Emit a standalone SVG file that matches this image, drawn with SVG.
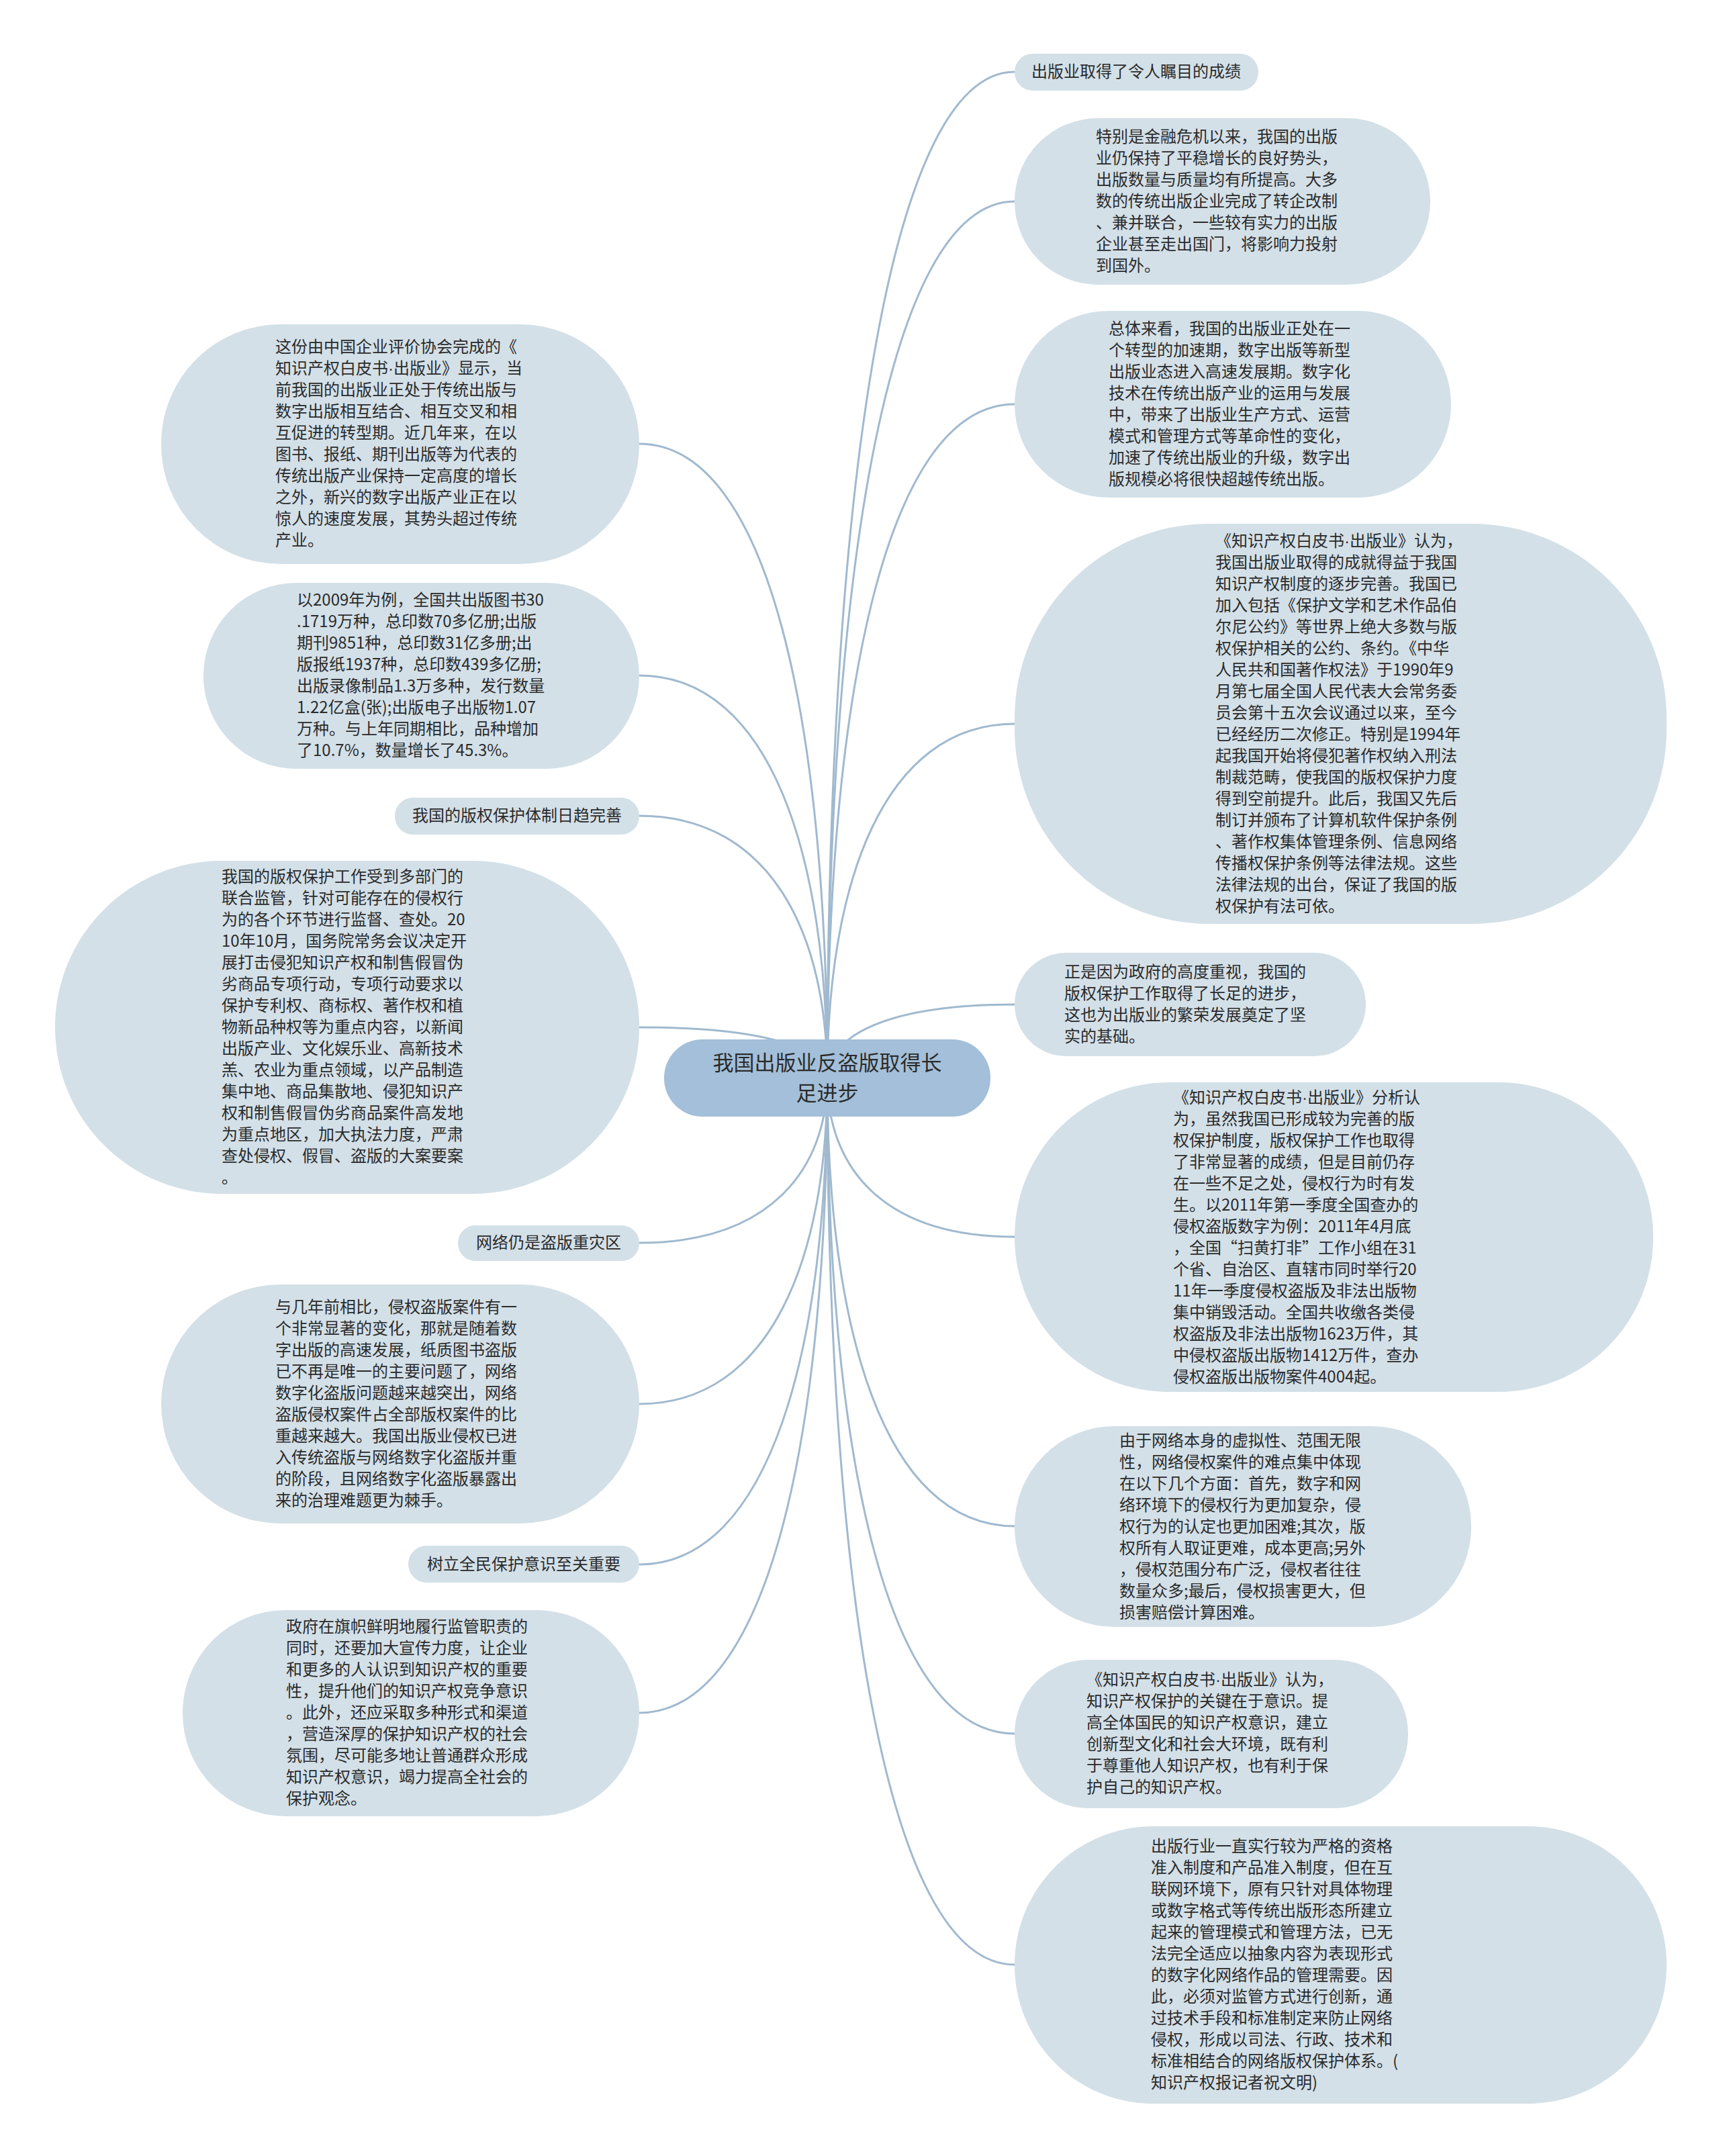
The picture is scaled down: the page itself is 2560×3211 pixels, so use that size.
<svg xmlns="http://www.w3.org/2000/svg" width="2560" height="3211" viewBox="0 0 2560 3211">
<style>
.n{fill:#d3e0e8}
.r{fill:#a3bfd9}
.t{font-family:"Noto Sans CJK SC","Noto Sans",sans-serif;font-size:24px;fill:#2b2b2b}
.rt{font-family:"Noto Sans CJK SC","Noto Sans",sans-serif;font-size:31px;fill:#2b2b2b;text-anchor:middle}
.m{text-anchor:middle}
.d{font-family:"Liberation Sans",sans-serif}
.c{fill:none;stroke:#a0b9cf;stroke-width:3}
</style>
<rect width="2560" height="3211" fill="#ffffff"/>
<g id="connectors">
<path class="c" d="M1232,1606 C1232,782 1316,107 1511,107"/>
<path class="c" d="M1232,1606 C1232,888 1316,300 1511,300"/>
<path class="c" d="M1232,1606 C1232,1054 1316,602 1511,602"/>
<path class="c" d="M1232,1606 C1232,1316 1316,1078 1511,1078"/>
<path class="c" d="M1232,1606 C1232,1545 1316,1496 1511,1496"/>
<path class="c" d="M1232,1606 C1232,1740 1316,1842 1511,1842"/>
<path class="c" d="M1232,1606 C1232,1977 1316,2273 1511,2273"/>
<path class="c" d="M1232,1606 C1232,2147 1316,2582 1511,2582"/>
<path class="c" d="M1232,1606 C1232,2336 1316,2926 1511,2926"/>
<path class="c" d="M1232,1606 C1232,1086 1148,661 952,661"/>
<path class="c" d="M1232,1606 C1232,1276 1148,1006 952,1006"/>
<path class="c" d="M1232,1606 C1232,1391 1148,1215 952,1215"/>
<path class="c" d="M1232,1606 C1232,1564 1148,1530 952,1530"/>
<path class="c" d="M1232,1606 C1232,1740 1148,1851 952,1851"/>
<path class="c" d="M1232,1606 C1232,1872 1148,2091 952,2091"/>
<path class="c" d="M1232,1606 C1232,2003 1148,2330 952,2330"/>
<path class="c" d="M1232,1606 C1232,2125 1148,2551 952,2551"/>
</g>
<g id="root">
<rect class="r" x="989" y="1548" width="486" height="115" rx="57"/>
<text class="rt" x="1232"><tspan x="1232" y="1594">我国出版业反盗版取得长</tspan><tspan x="1232" y="1639">足进步</tspan></text>
</g>
<g id="r1">
<rect class="n" x="1511" y="80" width="363" height="55" rx="27"/>
<text class="t m" x="1692" y="115">出版业取得了令人瞩目的成绩</text>
</g>
<g id="r2">
<rect class="n" x="1511" y="176" width="619" height="248" rx="124"/>
<text class="t"><tspan x="1632" y="212">特别是金融危机以来，我国的出版</tspan><tspan x="1632" y="244">业仍保持了平稳增长的良好势头，</tspan><tspan x="1632" y="276">出版数量与质量均有所提高。大多</tspan><tspan x="1632" y="308">数的传统出版企业完成了转企改制</tspan><tspan x="1632" y="340">、兼并联合，一些较有实力的出版</tspan><tspan x="1632" y="372">企业甚至走出国门，将影响力投射</tspan><tspan x="1632" y="404">到国外。</tspan></text>
</g>
<g id="r3">
<rect class="n" x="1511" y="463" width="650" height="278" rx="139"/>
<text class="t"><tspan x="1651" y="498">总体来看，我国的出版业正处在一</tspan><tspan x="1651" y="530">个转型的加速期，数字出版等新型</tspan><tspan x="1651" y="562">出版业态进入高速发展期。数字化</tspan><tspan x="1651" y="594">技术在传统出版产业的运用与发展</tspan><tspan x="1651" y="626">中，带来了出版业生产方式、运营</tspan><tspan x="1651" y="658">模式和管理方式等革命性的变化，</tspan><tspan x="1651" y="690">加速了传统出版业的升级，数字出</tspan><tspan x="1651" y="722">版规模必将很快超越传统出版。</tspan></text>
</g>
<g id="r4">
<rect class="n" x="1511" y="780" width="971" height="596" rx="290"/>
<text class="t"><tspan x="1810" y="814">《知识产权白皮书<tspan class="d">·</tspan>出版业》认为，</tspan><tspan x="1810" y="846">我国出版业取得的成就得益于我国</tspan><tspan x="1810" y="878">知识产权制度的逐步完善。我国已</tspan><tspan x="1810" y="910">加入包括《保护文学和艺术作品伯</tspan><tspan x="1810" y="942">尔尼公约》等世界上绝大多数与版</tspan><tspan x="1810" y="974">权保护相关的公约、条约。《中华</tspan><tspan x="1810" y="1006">人民共和国著作权法》于1990年9</tspan><tspan x="1810" y="1038">月第七届全国人民代表大会常务委</tspan><tspan x="1810" y="1070">员会第十五次会议通过以来，至今</tspan><tspan x="1810" y="1102">已经经历二次修正。特别是1994年</tspan><tspan x="1810" y="1134">起我国开始将侵犯著作权纳入刑法</tspan><tspan x="1810" y="1166">制裁范畴，使我国的版权保护力度</tspan><tspan x="1810" y="1198">得到空前提升。此后，我国又先后</tspan><tspan x="1810" y="1230">制订并颁布了计算机软件保护条例</tspan><tspan x="1810" y="1262">、著作权集体管理条例、信息网络</tspan><tspan x="1810" y="1294">传播权保护条例等法律法规。这些</tspan><tspan x="1810" y="1326">法律法规的出台，保证了我国的版</tspan><tspan x="1810" y="1358">权保护有法可依。</tspan></text>
</g>
<g id="r5">
<rect class="n" x="1511" y="1419" width="523" height="154" rx="77"/>
<text class="t"><tspan x="1585" y="1456">正是因为政府的高度重视，我国的</tspan><tspan x="1585" y="1488">版权保护工作取得了长足的进步，</tspan><tspan x="1585" y="1520">这也为出版业的繁荣发展奠定了坚</tspan><tspan x="1585" y="1552">实的基础。</tspan></text>
</g>
<g id="r6">
<rect class="n" x="1511" y="1612" width="951" height="461" rx="230"/>
<text class="t"><tspan x="1747" y="1643">《知识产权白皮书<tspan class="d">·</tspan>出版业》分析认</tspan><tspan x="1747" y="1675">为，虽然我国已形成较为完善的版</tspan><tspan x="1747" y="1707">权保护制度，版权保护工作也取得</tspan><tspan x="1747" y="1739">了非常显著的成绩，但是目前仍存</tspan><tspan x="1747" y="1771">在一些不足之处，侵权行为时有发</tspan><tspan x="1747" y="1803">生。以2011年第一季度全国查办的</tspan><tspan x="1747" y="1835">侵权盗版数字为例：2011年4月底</tspan><tspan x="1747" y="1867">，全国“扫黄打非”工作小组在31</tspan><tspan x="1747" y="1899">个省、自治区、直辖市同时举行20</tspan><tspan x="1747" y="1931">11年一季度侵权盗版及非法出版物</tspan><tspan x="1747" y="1963">集中销毁活动。全国共收缴各类侵</tspan><tspan x="1747" y="1995">权盗版及非法出版物1623万件，其</tspan><tspan x="1747" y="2027">中侵权盗版出版物1412万件，查办</tspan><tspan x="1747" y="2059">侵权盗版出版物案件4004起。</tspan></text>
</g>
<g id="r7">
<rect class="n" x="1511" y="2124" width="680" height="299" rx="149"/>
<text class="t"><tspan x="1667" y="2154">由于网络本身的虚拟性、范围无限</tspan><tspan x="1667" y="2186">性，网络侵权案件的难点集中体现</tspan><tspan x="1667" y="2218">在以下几个方面：首先，数字和网</tspan><tspan x="1667" y="2250">络环境下的侵权行为更加复杂，侵</tspan><tspan x="1667" y="2282">权行为的认定也更加困难;其次，版</tspan><tspan x="1667" y="2314">权所有人取证更难，成本更高;另外</tspan><tspan x="1667" y="2346">，侵权范围分布广泛，侵权者往往</tspan><tspan x="1667" y="2378">数量众多;最后，侵权损害更大，但</tspan><tspan x="1667" y="2410">损害赔偿计算困难。</tspan></text>
</g>
<g id="r8">
<rect class="n" x="1511" y="2472" width="586" height="221" rx="110"/>
<text class="t"><tspan x="1618" y="2510">《知识产权白皮书<tspan class="d">·</tspan>出版业》认为，</tspan><tspan x="1618" y="2542">知识产权保护的关键在于意识。提</tspan><tspan x="1618" y="2574">高全体国民的知识产权意识，建立</tspan><tspan x="1618" y="2606">创新型文化和社会大环境，既有利</tspan><tspan x="1618" y="2638">于尊重他人知识产权，也有利于保</tspan><tspan x="1618" y="2670">护自己的知识产权。</tspan></text>
</g>
<g id="r9">
<rect class="n" x="1511" y="2720" width="971" height="413" rx="206"/>
<text class="t"><tspan x="1714" y="2758">出版行业一直实行较为严格的资格</tspan><tspan x="1714" y="2790">准入制度和产品准入制度，但在互</tspan><tspan x="1714" y="2822">联网环境下，原有只针对具体物理</tspan><tspan x="1714" y="2854">或数字格式等传统出版形态所建立</tspan><tspan x="1714" y="2886">起来的管理模式和管理方法，已无</tspan><tspan x="1714" y="2918">法完全适应以抽象内容为表现形式</tspan><tspan x="1714" y="2950">的数字化网络作品的管理需要。因</tspan><tspan x="1714" y="2982">此，必须对监管方式进行创新，通</tspan><tspan x="1714" y="3014">过技术手段和标准制定来防止网络</tspan><tspan x="1714" y="3046">侵权，形成以司法、行政、技术和</tspan><tspan x="1714" y="3078">标准相结合的网络版权保护体系。(</tspan><tspan x="1714" y="3110">知识产权报记者祝文明)</tspan></text>
</g>
<g id="l1">
<rect class="n" x="240" y="483" width="712" height="357" rx="178"/>
<text class="t"><tspan x="410" y="525">这份由中国企业评价协会完成的《</tspan><tspan x="410" y="557">知识产权白皮书<tspan class="d">·</tspan>出版业》显示，当</tspan><tspan x="410" y="589">前我国的出版业正处于传统出版与</tspan><tspan x="410" y="621">数字出版相互结合、相互交叉和相</tspan><tspan x="410" y="653">互促进的转型期。近几年来，在以</tspan><tspan x="410" y="685">图书、报纸、期刊出版等为代表的</tspan><tspan x="410" y="717">传统出版产业保持一定高度的增长</tspan><tspan x="410" y="749">之外，新兴的数字出版产业正在以</tspan><tspan x="410" y="781">惊人的速度发展，其势头超过传统</tspan><tspan x="410" y="813">产业。</tspan></text>
</g>
<g id="l2">
<rect class="n" x="303" y="868" width="649" height="277" rx="138"/>
<text class="t"><tspan x="442" y="902">以2009年为例，全国共出版图书30</tspan><tspan x="442" y="934">.1719万种，总印数70多亿册;出版</tspan><tspan x="442" y="966">期刊9851种，总印数31亿多册;出</tspan><tspan x="442" y="998">版报纸1937种，总印数439多亿册;</tspan><tspan x="442" y="1030">出版录像制品1.3万多种，发行数量</tspan><tspan x="442" y="1062">1.22亿盒(张);出版电子出版物1.07</tspan><tspan x="442" y="1094">万种。与上年同期相比，品种增加</tspan><tspan x="442" y="1126">了10.7%，数量增长了45.3%。</tspan></text>
</g>
<g id="l3">
<rect class="n" x="588" y="1188" width="364" height="55" rx="27"/>
<text class="t m" x="770" y="1223">我国的版权保护体制日趋完善</text>
</g>
<g id="l4">
<rect class="n" x="82" y="1282" width="870" height="496" rx="248"/>
<text class="t"><tspan x="330" y="1314">我国的版权保护工作受到多部门的</tspan><tspan x="330" y="1346">联合监管，针对可能存在的侵权行</tspan><tspan x="330" y="1378">为的各个环节进行监督、查处。20</tspan><tspan x="330" y="1410">10年10月，国务院常务会议决定开</tspan><tspan x="330" y="1442">展打击侵犯知识产权和制售假冒伪</tspan><tspan x="330" y="1474">劣商品专项行动，专项行动要求以</tspan><tspan x="330" y="1506">保护专利权、商标权、著作权和植</tspan><tspan x="330" y="1538">物新品种权等为重点内容，以新闻</tspan><tspan x="330" y="1570">出版产业、文化娱乐业、高新技术</tspan><tspan x="330" y="1602">羔、农业为重点领域，以产品制造</tspan><tspan x="330" y="1634">集中地、商品集散地、侵犯知识产</tspan><tspan x="330" y="1666">权和制售假冒伪劣商品案件高发地</tspan><tspan x="330" y="1698">为重点地区，加大执法力度，严肃</tspan><tspan x="330" y="1730">查处侵权、假冒、盗版的大案要案</tspan><tspan x="330" y="1762">。</tspan></text>
</g>
<g id="l5">
<rect class="n" x="682" y="1825" width="270" height="53" rx="26"/>
<text class="t m" x="817" y="1859">网络仍是盗版重灾区</text>
</g>
<g id="l6">
<rect class="n" x="240" y="1913" width="712" height="356" rx="178"/>
<text class="t"><tspan x="410" y="1955">与几年前相比，侵权盗版案件有一</tspan><tspan x="410" y="1987">个非常显著的变化，那就是随着数</tspan><tspan x="410" y="2019">字出版的高速发展，纸质图书盗版</tspan><tspan x="410" y="2051">已不再是唯一的主要问题了，网络</tspan><tspan x="410" y="2083">数字化盗版问题越来越突出，网络</tspan><tspan x="410" y="2115">盗版侵权案件占全部版权案件的比</tspan><tspan x="410" y="2147">重越来越大。我国出版业侵权已进</tspan><tspan x="410" y="2179">入传统盗版与网络数字化盗版并重</tspan><tspan x="410" y="2211">的阶段，且网络数字化盗版暴露出</tspan><tspan x="410" y="2243">来的治理难题更为棘手。</tspan></text>
</g>
<g id="l7">
<rect class="n" x="608" y="2302" width="344" height="55" rx="27"/>
<text class="t m" x="780" y="2338">树立全民保护意识至关重要</text>
</g>
<g id="l8">
<rect class="n" x="272" y="2398" width="680" height="307" rx="153"/>
<text class="t"><tspan x="426" y="2431">政府在旗帜鲜明地履行监管职责的</tspan><tspan x="426" y="2463">同时，还要加大宣传力度，让企业</tspan><tspan x="426" y="2495">和更多的人认识到知识产权的重要</tspan><tspan x="426" y="2527">性，提升他们的知识产权竞争意识</tspan><tspan x="426" y="2559">。此外，还应采取多种形式和渠道</tspan><tspan x="426" y="2591">，营造深厚的保护知识产权的社会</tspan><tspan x="426" y="2623">氛围，尽可能多地让普通群众形成</tspan><tspan x="426" y="2655">知识产权意识，竭力提高全社会的</tspan><tspan x="426" y="2687">保护观念。</tspan></text>
</g>
</svg>
